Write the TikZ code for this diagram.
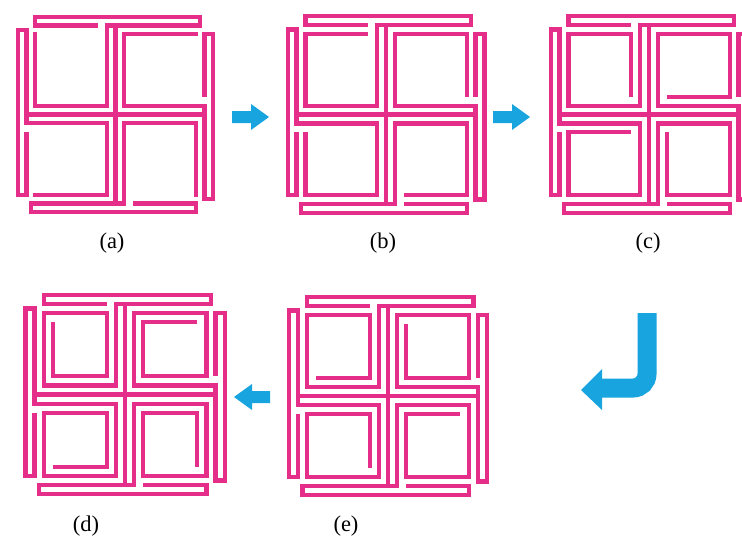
\documentclass[tikz,border=0pt]{standalone}
\usepackage{fontspec}
\setmainfont{Liberation Serif}
\definecolor{kpink}{RGB}{228,46,138}
\definecolor{kblue}{RGB}{24,164,222}
\tikzset{
  kol/.style={draw=kpink, line width=4.1pt, line join=miter, line cap=butt},
  arm/.style={kol, line cap=rect},
  lab/.style={font=\fontsize{22.5}{26}\selectfont, inner sep=0pt, anchor=center},
  blk/.style={fill=kblue, draw=none}
}
\newcommand{\kolampanel}[4]{%
  \foreach \r in {0,-90,-180,-270}{%
    \begin{scope}[shift={(#1,#2)}, rotate=\r, x={(#3pt,0pt)}, y={(0pt,-#3pt)}]
      \draw[kol] #4 -- (-9,-1) -- (-1,-1) -- (-1,-10) -- (9.5,-10) -- (9.5,-11)
                 -- (-9,-11) -- (-9,-10) -- (-2,-10);
      \draw[arm] (0,-10) -- (0,0);
    \end{scope}}}
\begin{document}
\begin{tikzpicture}[x=1pt, y=-1pt]
  \useasboundingbox (0,0) rectangle (742,546);
  \clip (0,0) rectangle (742,546);
  \fill[white] (0,0) rectangle (742,546);
  % panels
  \kolampanel{115.5}{114.5}{8.9}{(-9,-9.3)}
  \kolampanel{386}{114.5}{8.95}{(-2,-9) -- (-9,-9)}
  \kolampanel{649}{114.5}{8.95}{(-2,-2) -- (-2,-9) -- (-9,-9)}
  \kolampanel{388}{396}{9.0}{(-8,-2) -- (-2,-2) -- (-2,-9) -- (-9,-9)}
  \kolampanel{125}{394.5}{9.05}{(-8,-8) -- (-8,-2) -- (-2,-2) -- (-2,-9) -- (-9,-9)}
  % arrows
  \fill[blk] (232,111) -- (251,111) -- (251,104) -- (269,117) -- (251,130) -- (251,123) -- (232,123) -- cycle;
  \fill[blk] (493,111) -- (512,111) -- (512,104) -- (530,117) -- (512,130) -- (512,123) -- (493,123) -- cycle;
  \fill[blk] (270,391) -- (252,391) -- (252,384) -- (234,397) -- (252,410) -- (252,403) -- (270,403) -- cycle;
  \draw[kblue, line width=19pt, rounded corners=14pt] (647,313) -- (647,388) -- (600,388);
  \fill[blk] (602,369) -- (581,390) -- (602,410) -- cycle;
  % labels
  \node[lab] (la) at (112,243) {(a)};
  \node[lab] (lb) at (383,243) {(b)};
  \node[lab] (lc) at (648,243) {(c)};
  \node[lab] (ld) at (86,526) {(d)};
  \node[lab] (le) at (346,526) {(e)};
\end{tikzpicture}
\end{document}
